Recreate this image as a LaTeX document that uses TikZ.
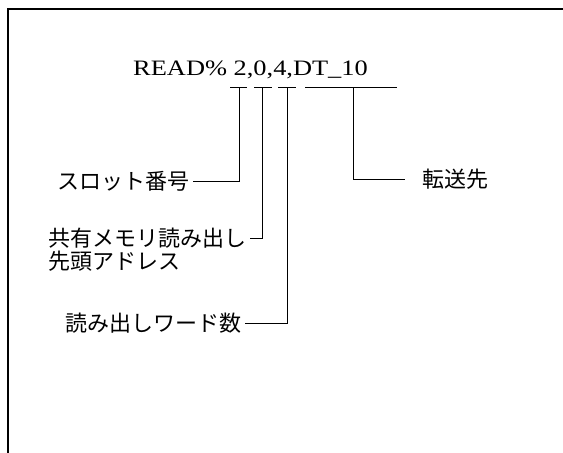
\documentclass[tikz,border=0pt]{standalone}
\usepackage{fontspec}
\setmainfont{Liberation Serif}
\newfontfamily\cmdfont[FakeStretch=1.2]{Liberation Serif}
\newfontfamily\jpfont{Noto Sans CJK JP}
\usetikzlibrary{positioning}

\begin{document}
\begin{tikzpicture}[x=1pt,y=-1pt]
\tikzstyle{command} = [font=\cmdfont\fontsize{22}{26}\selectfont, inner sep=0pt];
\tikzstyle{label} = [font=\jpfont\fontsize{22}{26}\selectfont, inner sep=3pt];
\tikzstyle{line} = [draw, line width=1pt];
\tikzstyle{frame} = [draw, line width=1.3pt];
\useasboundingbox (0,0) rectangle (563,453);
\path[frame] (563,9) -- (8,9) -- (8,453);
% command
\node [command, anchor=base west] (cmd) at (133,75) {READ\% 2,0,4,DT\_10};
\foreach \a/\b in {230/247, 254/272, 278/296, 305/397}
  \path[line] (\a,87) -- (\b,87);
\coordinate (slot) at (239,87);
\coordinate (share) at (262,87);
\coordinate (words) at (287,87);
\coordinate (target) at (353,87);
% labels
\node [label, anchor=east] (slotno) at (193,181) {スロット番号};
\node [label, anchor=east] (addr) at (250,238) {共有メモリ読み出し};
\node [label, below=-4pt of addr.south west, anchor=north west] (addr2) {先頭アドレス};
\node [label, anchor=east] (count) at (245,323) {読み出しワード数};
\node [label, anchor=west, inner xsep=17pt] (dest) at (405,179) {転送先};
\tikzstyle{every path}=[line]
\path (slot) |- (slotno.east);
\path (share) |- (addr.east);
\path (words) |- (count.east);
\path (target) |- (dest.west);
\end{tikzpicture}
\end{document}
